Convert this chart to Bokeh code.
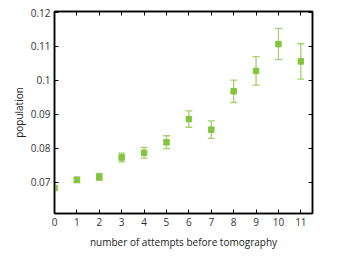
from bokeh.plotting import figure
from bokeh.models import (ColumnDataSource, Whisker, TeeHead, LinearAxis, FixedTicker, Range1d,
                          CustomLabelingPolicy)
from bokeh.embed import file_html
from bokeh.resources import INLINE

attempts = [0, 1, 2, 3, 4, 5, 6, 7, 8, 9, 10, 11]
population = [0.0683, 0.0707, 0.0716, 0.0773, 0.0787, 0.0818, 0.0886, 0.0855, 0.0968, 0.1028, 0.1107, 0.1056]
errors = [0.0005, 0.0008, 0.0010, 0.0013, 0.0016, 0.0019, 0.0024, 0.0026, 0.0033, 0.0042, 0.0046, 0.0052]

x_ticks = [0, 1, 2, 3, 4, 5, 6, 7, 8, 9, 10, 11]
y_ticks = [0.07, 0.08, 0.09, 0.1, 0.11, 0.12]
y_tick_labels = ["0.07", "0.08", "0.09", "0.1", "0.11", "0.12"]

FONT = "Open Sans"
MARK = "#86c440"
BAR = "#a3d36b"

src = ColumnDataSource(dict(
    x=attempts, y=population,
    lo=[p - e for p, e in zip(population, errors)],
    hi=[p + e for p, e in zip(population, errors)],
))

p = figure(frame_width=258, frame_height=202, output_backend="svg", toolbar_location=None,
           x_range=Range1d(0, 11.52), y_range=Range1d(0.0608, 0.1203),
           min_border_left=54, min_border_right=8, min_border_top=10, min_border_bottom=30)
p.grid.visible = False
p.background_fill_color = "white"
p.border_fill_color = "white"
p.outline_line_color = "black"
p.outline_line_width = 1.5

w = Whisker(source=src, base="x", lower="lo", upper="hi", line_color=BAR, line_width=1.3,
            upper_head=TeeHead(size=7, line_color=BAR, line_width=1.3),
            lower_head=TeeHead(size=7, line_color=BAR, line_width=1.3))
p.add_layout(w)
p.scatter("x", "y", source=src, marker="square", size=5.5, fill_color=MARK, line_color=MARK)

for ax in (p.xaxis[0], p.yaxis[0]):
    ax.major_tick_in = 4
    ax.major_tick_out = 0
    ax.minor_tick_line_color = None
    ax.axis_line_width = 1.5
    ax.axis_line_color = "black"
    ax.major_tick_line_color = "black"
    ax.major_label_text_font = FONT
    ax.major_label_text_font_size = "10px"
    ax.major_label_text_color = "#333333"
    ax.axis_label_text_font = FONT
    ax.axis_label_text_font_size = "10px"
    ax.axis_label_text_font_style = "normal"
    ax.axis_label_text_color = "#222222"

p.xaxis[0].ticker = FixedTicker(ticks=x_ticks)
p.yaxis[0].ticker = FixedTicker(ticks=y_ticks)
p.yaxis[0].major_label_overrides = {t: l for t, l in zip(y_ticks, y_tick_labels)}
p.xaxis[0].axis_label = "number of attempts before tomography"
p.yaxis[0].axis_label = "population"
p.xaxis[0].major_label_standoff = 4
p.yaxis[0].major_label_standoff = 4
p.xaxis[0].axis_label_standoff = 6
p.yaxis[0].axis_label_standoff = 2

no_labels = CustomLabelingPolicy(code="if (false) { yield 0 }")
top = LinearAxis(ticker=FixedTicker(ticks=x_ticks), major_tick_in=4, major_tick_out=0,
                 minor_tick_line_color=None, major_label_policy=no_labels,
                 major_label_standoff=0, axis_line_width=1.5)
right = LinearAxis(ticker=FixedTicker(ticks=y_ticks), major_tick_in=4, major_tick_out=0,
                   minor_tick_line_color=None, major_label_policy=no_labels,
                   major_label_standoff=0, axis_line_width=1.5)
p.add_layout(top, "above")
p.add_layout(right, "right")

open("out.html", "w").write(file_html(p, INLINE))
